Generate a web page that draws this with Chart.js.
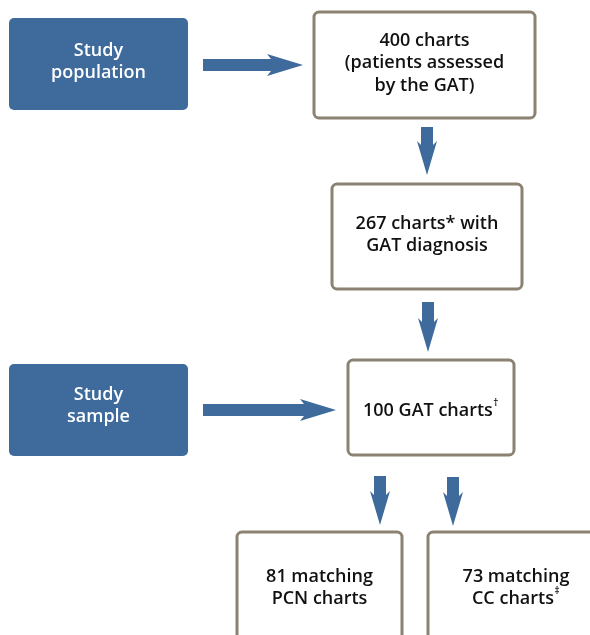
<!DOCTYPE html>
<html>
<head>
<meta charset="utf-8">
<script src="https://cdn.jsdelivr.net/npm/chart.js@4.4.1/dist/chart.umd.min.js"></script>
<style>
  html, body { margin: 0; padding: 0; background: #fff; }
  #wrap { width: 590px; height: 635px; }
</style>
</head>
<body>
<div id="wrap"><canvas id="flow" width="590" height="635"></canvas></div>
<script>
// flow steps (text content) -- "^" marks a superscript
const stepIds = ['pop', 'all', 'diag', 'sample', 'gat', 'pcn', 'cc'];
const stepText = [
  ['Study', 'population'],
  ['400 charts', '(patients assessed', 'by the GAT)'],
  ['267 charts* with', 'GAT diagnosis'],
  ['Study', 'sample'],
  ['100 GAT charts^\u2020'],
  ['81 matching', 'PCN charts'],
  ['73 matching', 'CC charts^\u2021']
];
const stepKind = ['label', 'box', 'box', 'label', 'box', 'box', 'box'];
const links = [['pop', 'all'], ['all', 'diag'], ['diag', 'gat'], ['sample', 'gat'], ['gat', 'pcn'], ['gat', 'cc']];

// layout, in the axis units (0..590 across, 0..635 down)
const boxes = {
  pop:    { x0: 9,   y0: 18,  x1: 188, y1: 110, ty: 62 },
  all:    { x0: 314, y0: 12,  x1: 535, y1: 118, ty: 63 },
  diag:   { x0: 332, y0: 184, x1: 522, y1: 289, ty: 235 },
  sample: { x0: 9,   y0: 364, x1: 188, y1: 456, ty: 406 },
  gat:    { x0: 348, y0: 360, x1: 514, y1: 455, ty: 411 },
  pcn:    { x0: 237, y0: 532, x1: 402, y1: 660, ty: 588 },
  cc:     { x0: 428, y0: 532, x1: 600, y1: 660, ty: 588 }
};
const arrows = [
  { dir: 'r', a: 203, b: 303, c: 65 },
  { dir: 'd', a: 127, b: 175, c: 427 },
  { dir: 'd', a: 302, b: 352, c: 428 },
  { dir: 'r', a: 203, b: 336, c: 410 },
  { dir: 'd', a: 476, b: 525, c: 380 },
  { dir: 'd', a: 477, b: 526, c: 453 }
];

const BLUE = '#3e6a9c';
const FRAME = '#8b8271';
const FONT = '600 18px "Open Sans"';
const SUP = '600 10px "Open Sans"';

function drawLine(ctx, str, cx, cy, color) {
  const parts = str.split('^');
  ctx.font = FONT;
  let w = ctx.measureText(parts[0]).width;
  let supW = 0, rest = '';
  if (parts.length > 1) {
    const sup = parts[1].charAt(0);
    rest = parts[1].slice(1);
    ctx.font = SUP;
    supW = ctx.measureText(sup).width + 1;
    ctx.font = FONT;
    w += supW + ctx.measureText(rest).width;
  }
  let x = cx - w / 2;
  ctx.fillStyle = color;
  ctx.textAlign = 'left';
  ctx.textBaseline = 'middle';
  ctx.font = FONT;
  ctx.fillText(parts[0], x, cy);
  x += ctx.measureText(parts[0]).width;
  if (parts.length > 1) {
    ctx.font = SUP;
    ctx.fillText(parts[1].charAt(0), x + 0.5, cy - 8);
    x += supW;
    ctx.font = FONT;
    ctx.fillText(rest, x, cy);
  }
}

function roundRect(ctx, x0, y0, x1, y1, r) {
  ctx.beginPath();
  ctx.moveTo(x0 + r, y0);
  ctx.arcTo(x1, y0, x1, y1, r);
  ctx.arcTo(x1, y1, x0, y1, r);
  ctx.arcTo(x0, y1, x0, y0, r);
  ctx.arcTo(x0, y0, x1, y0, r);
  ctx.closePath();
}

const flowPlugin = {
  id: 'flow',
  afterDatasetsDraw(chart) {
    const ctx = chart.ctx;
    const xs = chart.scales.x, ys = chart.scales.y;
    const X = v => xs.getPixelForValue(v);
    const Y = v => ys.getPixelForValue(v);
    ctx.save();

    // arrows
    ctx.fillStyle = BLUE;
    for (const ar of arrows) {
      ctx.beginPath();
      if (ar.dir === 'r') {
        const h = ar.b - 32;
        ctx.moveTo(X(ar.a), Y(ar.c - 6));
        ctx.lineTo(X(h), Y(ar.c - 6));
        ctx.lineTo(X(h - 4), Y(ar.c - 11));
        ctx.lineTo(X(ar.b), Y(ar.c));
        ctx.lineTo(X(h - 4), Y(ar.c + 11));
        ctx.lineTo(X(h), Y(ar.c + 6));
        ctx.lineTo(X(ar.a), Y(ar.c + 6));
      } else {
        const h = ar.b - 30;
        ctx.moveTo(X(ar.c - 6), Y(ar.a));
        ctx.lineTo(X(ar.c + 6), Y(ar.a));
        ctx.lineTo(X(ar.c + 6), Y(h));
        ctx.lineTo(X(ar.c + 10), Y(h - 4));
        ctx.lineTo(X(ar.c), Y(ar.b));
        ctx.lineTo(X(ar.c - 10), Y(h - 4));
        ctx.lineTo(X(ar.c - 6), Y(h));
      }
      ctx.closePath();
      ctx.fill();
    }

    // boxes and text
    stepIds.forEach((id, i) => {
      const b = boxes[id];
      const x0 = X(b.x0), x1 = X(b.x1), y0 = Y(b.y0), y1 = Y(b.y1);
      let color;
      if (stepKind[i] === 'label') {
        roundRect(ctx, x0, y0, x1, y1, 5);
        ctx.fillStyle = BLUE;
        ctx.fill();
        color = '#ffffff';
      } else {
        roundRect(ctx, x0, y0, x1, y1, 5);
        ctx.fillStyle = '#ffffff';
        ctx.fill();
        ctx.lineWidth = 3;
        ctx.strokeStyle = FRAME;
        ctx.stroke();
        color = '#111111';
      }
      const lines = stepText[i];
      const gap = 22.5;
      const cx = (x0 + x1) / 2;
      const cxUse = b.x1 > 590 ? X((b.x0 + 590 + 14) / 2) : cx;
      lines.forEach((ln, k) => {
        const cy = Y(b.ty) + (k - (lines.length - 1) / 2) * gap;
        drawLine(ctx, ln, cxUse, cy, color);
      });
    });
    ctx.restore();
  }
};

new Chart(document.getElementById('flow').getContext('2d'), {
  type: 'scatter',
  data: {
    datasets: [{
      data: stepIds.map(id => ({ x: (boxes[id].x0 + boxes[id].x1) / 2, y: boxes[id].ty })),
      pointRadius: 0,
      pointHoverRadius: 0
    }]
  },
  options: {
    responsive: false,
    animation: false,
    events: [],
    layout: { padding: 0 },
    plugins: { legend: { display: false }, tooltip: { enabled: false } },
    scales: {
      x: { type: 'linear', min: 0, max: 590, display: false },
      y: { type: 'linear', min: 0, max: 635, reverse: true, display: false }
    }
  },
  plugins: [flowPlugin]
});
</script>
</body>
</html>
